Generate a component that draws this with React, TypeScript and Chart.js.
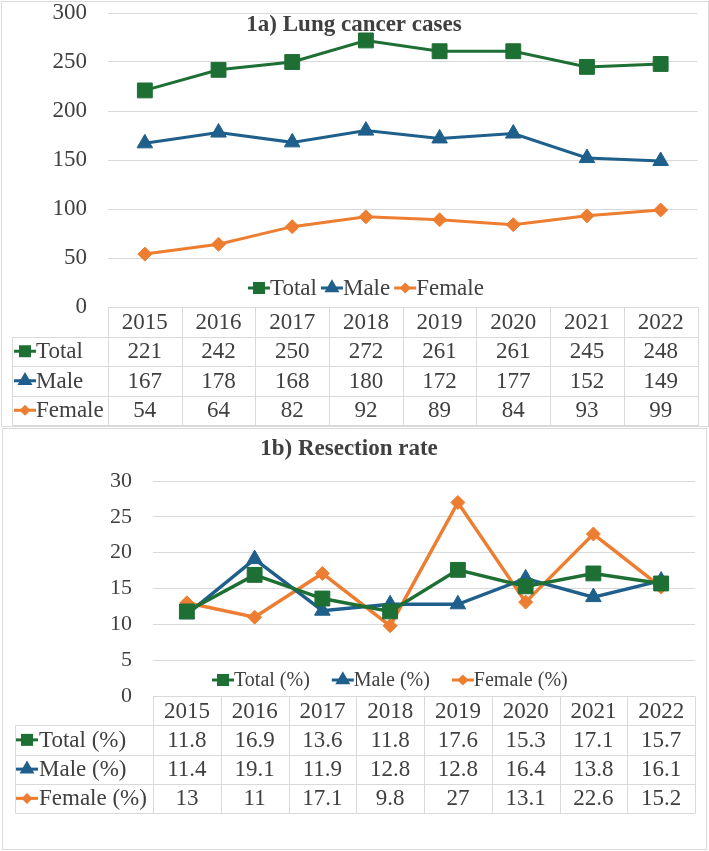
import React, { useEffect, useRef } from 'react';
import { Chart, registerables } from 'chart.js';

Chart.register(...registerables);

// ---- data ----
const years = ['2015', '2016', '2017', '2018', '2019', '2020', '2021', '2022'];

const casesTotal = [221, 242, 250, 272, 261, 261, 245, 248];
const casesMale = [167, 178, 168, 180, 172, 177, 152, 149];
const casesFemale = [54, 64, 82, 92, 89, 84, 93, 99];

const rateTotal = [11.8, 16.9, 13.6, 11.8, 17.6, 15.3, 17.1, 15.7];
const rateMale = [11.4, 19.1, 11.9, 12.8, 12.8, 16.4, 13.8, 16.1];
const rateFemale = [13, 11, 17.1, 9.8, 27, 13.1, 22.6, 15.2];

const caseLabels = ['Total', 'Male', 'Female'];
const rateLabels = ['Total (%)', 'Male (%)', 'Female (%)'];

// ---- styling ----
const GREEN = '#1e6f34';
const BLUE = '#1f5f8b';
const ORANGE = '#ed7d31';
const TEXT = '#404040';
const GRID = '#d9d9d9';
const FONT = '"Liberation Serif", "Times New Roman", serif';

type MarkerStyle = 'rect' | 'triangle' | 'rectRot';

interface Series {
  label: string;
  data: number[];
  color: string;
  style: MarkerStyle;
}

interface PanelSpec {
  title: string;
  titleX: number;
  titleY: number;
  yMax: number;
  yStep: number;
  series: Series[];
  height: number;
  axisWidth: number;
  padTop: number;
  padBottom: number;
  padRight: number;
  lineWidth: number;
  tickFont: number;
  legendFont: number;
  legendX: number;
  legendY: number;
  legendGap: number;
  tableFont: number;
  tableLeft: number;
  labelSymbolX: number;
  labelTextX: number;
  rowH: number;
  frame: [number, number, number, number];
}

const markerRadius: Record<MarkerStyle, number> = { rect: 10.5, triangle: 9, rectRot: 7 };

function drawMarker(ctx: CanvasRenderingContext2D, style: MarkerStyle, color: string, x: number, y: number, size: number) {
  ctx.fillStyle = color;
  ctx.beginPath();
  if (style === 'rect') {
    ctx.rect(x - size / 2, y - size / 2, size, size);
  } else if (style === 'triangle') {
    const r = size * 0.62;
    ctx.moveTo(x, y - r);
    ctx.lineTo(x + r * 0.866, y + r * 0.5);
    ctx.lineTo(x - r * 0.866, y + r * 0.5);
    ctx.closePath();
  } else {
    const r = size / 2;
    ctx.moveTo(x, y - r);
    ctx.lineTo(x + r, y);
    ctx.lineTo(x, y + r);
    ctx.lineTo(x - r, y);
    ctx.closePath();
  }
  ctx.fill();
}

const symbolSize: Record<MarkerStyle, number> = { rect: 12, triangle: 14, rectRot: 11 };

// line-with-marker key used in the legend and the data table
function drawSymbol(ctx: CanvasRenderingContext2D, s: Series, x: number, y: number) {
  ctx.save();
  ctx.strokeStyle = s.color;
  ctx.lineWidth = 3;
  ctx.beginPath();
  ctx.moveTo(x, y);
  ctx.lineTo(x + 22, y);
  ctx.stroke();
  drawMarker(ctx, s.style, s.color, x + 11, y, symbolSize[s.style]);
  ctx.restore();
}

const fmt = (v: number) => String(v);

const decorPlugin = {
  id: 'panelDecor',
  afterDraw(chart: any, _args: any, opts: any) {
    const spec: PanelSpec = opts.spec;
    const ctx: CanvasRenderingContext2D = chart.ctx;
    const area = chart.chartArea;
    const xScale = chart.scales.x;
    const n = years.length;
    const colW = (area.right - area.left) / n;

    ctx.save();

    // outer frame
    ctx.strokeStyle = GRID;
    ctx.lineWidth = 1;
    const [fx, fy, fw, fh] = spec.frame;
    ctx.strokeRect(fx + 0.5, fy + 0.5, fw, fh);

    // title
    ctx.fillStyle = TEXT;
    ctx.font = `bold 23px ${FONT}`;
    ctx.textAlign = 'center';
    ctx.textBaseline = 'middle';
    ctx.fillText(spec.title, spec.titleX, spec.titleY);

    // legend
    ctx.font = `${spec.legendFont}px ${FONT}`;
    ctx.textAlign = 'left';
    let lx = spec.legendX;
    spec.series.forEach((s) => {
      drawSymbol(ctx, s, lx, spec.legendY);
      ctx.fillStyle = TEXT;
      ctx.fillText(s.label, lx + 22, spec.legendY + 1);
      lx += 22 + ctx.measureText(s.label).width + spec.legendGap;
    });

    // data table
    const top = area.bottom;
    const rows = spec.series.length;
    const headBottom = top + spec.rowH;
    const bottom = top + spec.rowH * (rows + 1);
    const px = (v: number) => Math.round(v) + 0.5;

    ctx.strokeStyle = GRID;
    ctx.lineWidth = 1;
    ctx.beginPath();
    ctx.moveTo(px(area.left), px(top));
    ctx.lineTo(px(area.right), px(top));
    for (let r = 1; r <= rows + 1; r++) {
      const y = px(top + spec.rowH * r);
      ctx.moveTo(px(spec.tableLeft), y);
      ctx.lineTo(px(area.right), y);
    }
    for (let c = 0; c <= n; c++) {
      const x = px(area.left + colW * c);
      ctx.moveTo(x, px(top));
      ctx.lineTo(x, px(bottom));
    }
    ctx.moveTo(px(spec.tableLeft), px(headBottom));
    ctx.lineTo(px(spec.tableLeft), px(bottom));
    ctx.stroke();

    ctx.fillStyle = TEXT;
    ctx.font = `${spec.tableFont}px ${FONT}`;
    ctx.textAlign = 'center';
    years.forEach((yr, i) => {
      ctx.fillText(yr, xScale.getPixelForValue(i), top + spec.rowH / 2 + 1);
    });
    spec.series.forEach((s, r) => {
      const cy = top + spec.rowH * (r + 1.5) + 1;
      drawSymbol(ctx, s, spec.labelSymbolX, cy - 1);
      ctx.fillStyle = TEXT;
      ctx.textAlign = 'left';
      ctx.fillText(s.label, spec.labelTextX, cy);
      ctx.textAlign = 'center';
      s.data.forEach((v, i) => {
        ctx.fillText(fmt(v), xScale.getPixelForValue(i), cy);
      });
    });

    ctx.restore();
  },
};

const casesPanel: PanelSpec = {
  title: '1a) Lung cancer cases',
  titleX: 354,
  titleY: 25,
  yMax: 300,
  yStep: 50,
  series: [
    { label: caseLabels[0], data: casesTotal, color: GREEN, style: 'rect' },
    { label: caseLabels[1], data: casesMale, color: BLUE, style: 'triangle' },
    { label: caseLabels[2], data: casesFemale, color: ORANGE, style: 'rectRot' },
  ],
  height: 427,
  axisWidth: 108,
  padTop: 13,
  padBottom: 120,
  padRight: 1,
  lineWidth: 3,
  tickFont: 23,
  legendFont: 23,
  legendX: 248,
  legendY: 288,
  legendGap: 4,
  tableFont: 23,
  tableLeft: 12,
  labelSymbolX: 14,
  labelTextX: 36,
  rowH: 29.5,
  frame: [1, 1, 707, 425],
};

const ratePanel: PanelSpec = {
  title: '1b) Resection rate',
  titleX: 349,
  titleY: 22,
  yMax: 30,
  yStep: 5,
  series: [
    { label: rateLabels[0], data: rateTotal, color: GREEN, style: 'rect' },
    { label: rateLabels[1], data: rateMale, color: BLUE, style: 'triangle' },
    { label: rateLabels[2], data: rateFemale, color: ORANGE, style: 'rectRot' },
  ],
  height: 424,
  axisWidth: 153,
  padTop: 54,
  padBottom: 155,
  padRight: 14,
  lineWidth: 3.5,
  tickFont: 22,
  legendFont: 20,
  legendX: 212,
  legendY: 253,
  legendGap: 22,
  tableFont: 23,
  tableLeft: 15,
  labelSymbolX: 16,
  labelTextX: 39,
  rowH: 29.25,
  frame: [2, 1, 704, 421],
};

function Panel({ spec }: { spec: PanelSpec }) {
  const ref = useRef<HTMLCanvasElement>(null);

  useEffect(() => {
    const canvas = ref.current;
    if (!canvas) return;
    const chart = new Chart(canvas, {
      type: 'line',
      data: {
        labels: years,
        datasets: spec.series.map((s) => ({
          label: s.label,
          data: s.data,
          borderColor: s.color,
          backgroundColor: s.color,
          borderWidth: spec.lineWidth,
          tension: 0,
          pointStyle: s.style,
          pointRadius: markerRadius[s.style],
          pointHoverRadius: markerRadius[s.style],
          pointBackgroundColor: s.color,
          pointBorderColor: s.color,
          pointBorderWidth: 1,
        })),
      },
      options: {
        responsive: false,
        animation: false,
        events: [],
        layout: {
          padding: { left: 0, top: spec.padTop, right: spec.padRight, bottom: spec.padBottom },
        },
        scales: {
          x: {
            type: 'category',
            display: false,
            offset: true,
          },
          y: {
            min: 0,
            max: spec.yMax,
            afterFit: (scale: any) => {
              // fixed axis width; label overflow is covered by the layout padding
              scale.width = spec.axisWidth;
              scale.paddingTop = 0;
              scale.paddingBottom = 0;
            },
            ticks: {
              stepSize: spec.yStep,
              padding: 21,
              color: TEXT,
              font: { family: FONT, size: spec.tickFont },
            },
            grid: { color: GRID, lineWidth: 1, drawTicks: false },
            border: { display: false },
          },
        },
        plugins: {
          legend: { display: false },
          tooltip: { enabled: false },
          title: { display: false },
          panelDecor: { spec },
        } as any,
      },
      plugins: [decorPlugin],
    });
    return () => chart.destroy();
  }, [spec]);

  return <canvas ref={ref} width={709} height={spec.height} style={{ display: 'block' }} />;
}

export default function App() {
  return (
    <div style={{ position: 'fixed', left: 0, top: 0, width: 709, height: 851, background: '#ffffff' }}>
      <Panel spec={casesPanel} />
      <Panel spec={ratePanel} />
    </div>
  );
}
